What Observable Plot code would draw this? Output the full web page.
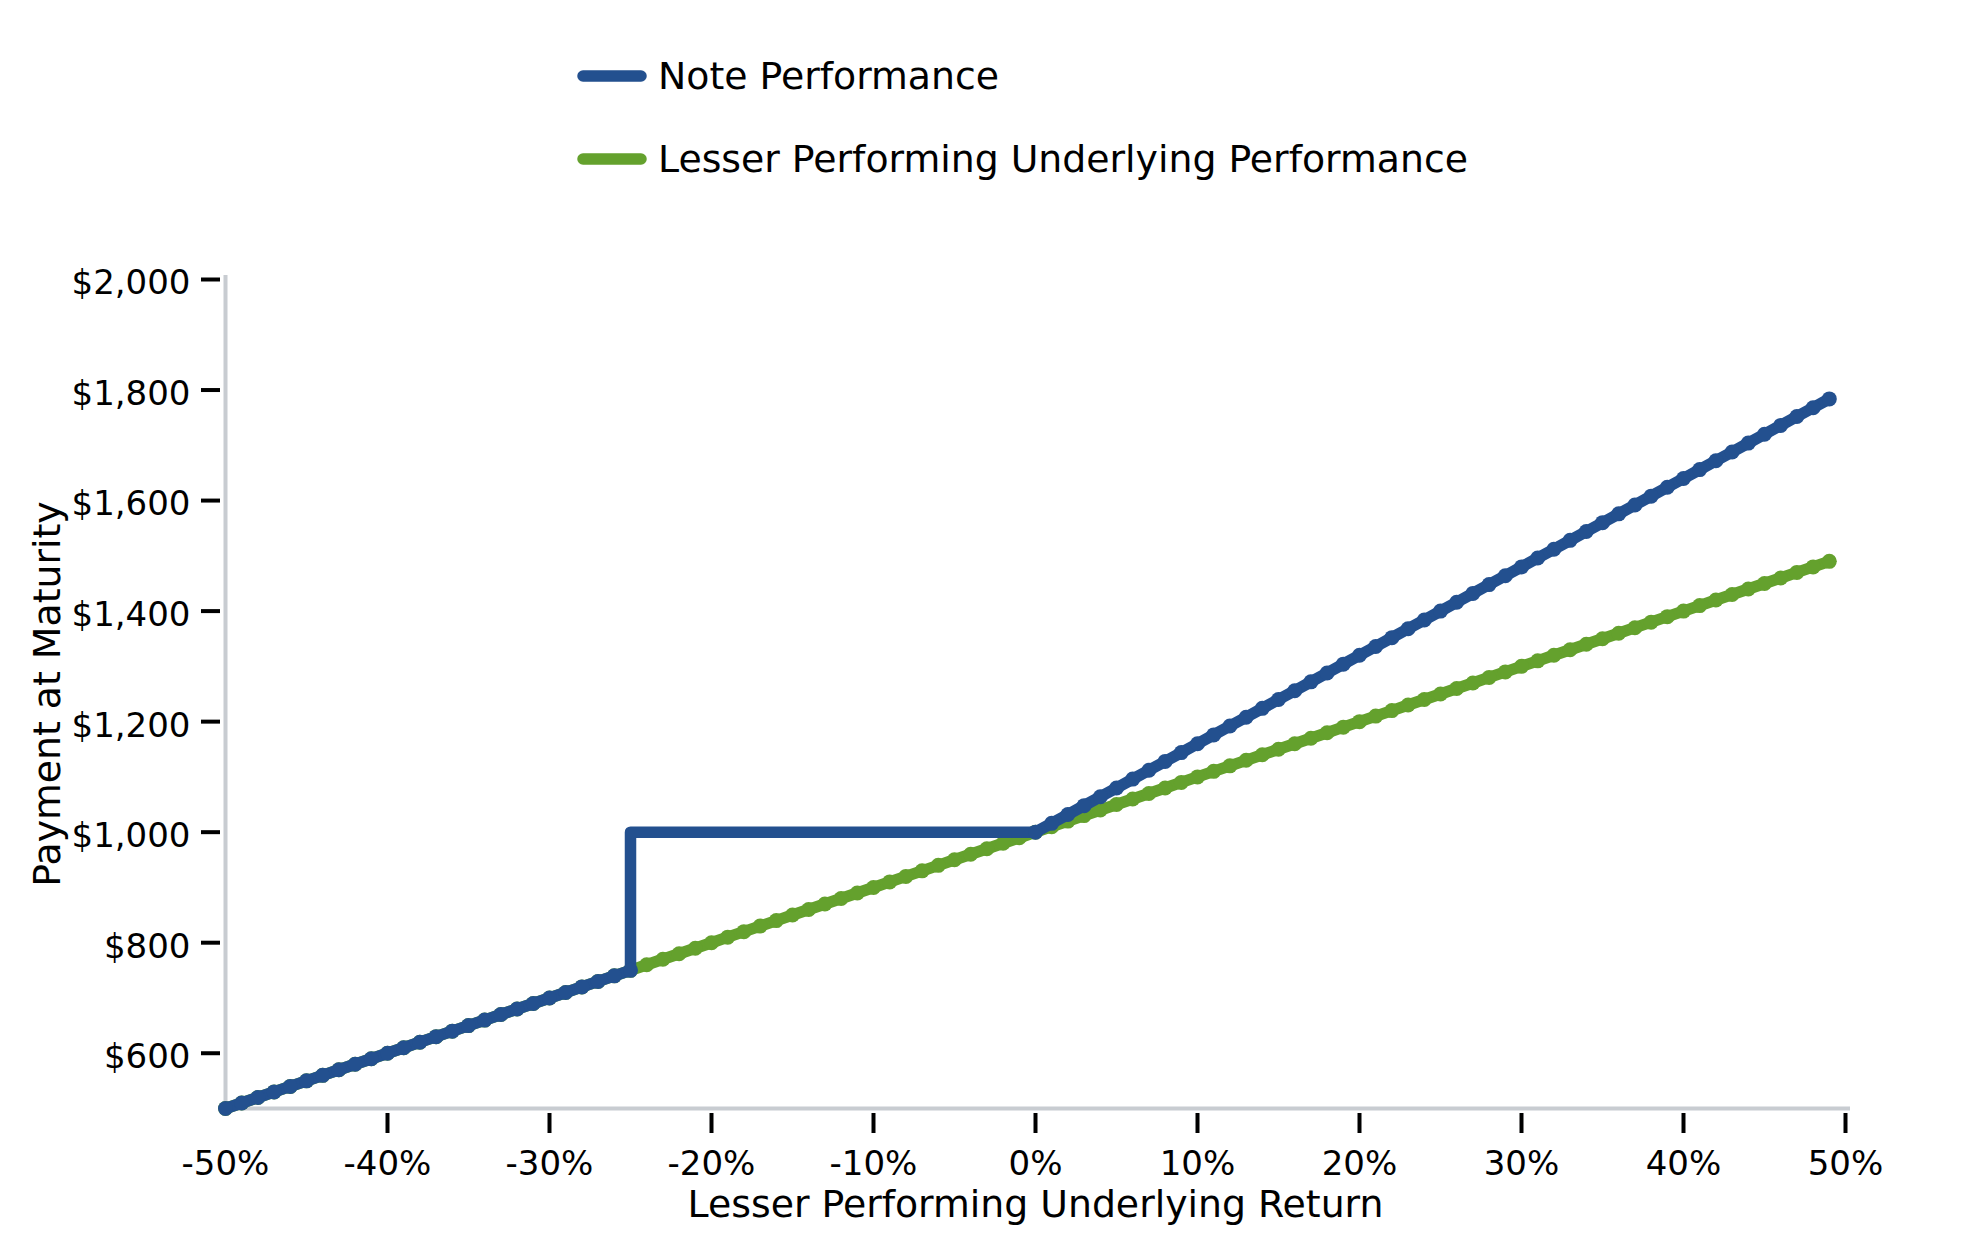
<!DOCTYPE html>
<html>
<head>
<meta charset="utf-8">
<script src="https://cdn.jsdelivr.net/npm/d3@7"></script>
<script src="https://cdn.jsdelivr.net/npm/@observablehq/plot@0.6"></script>
<style>
  html, body { margin: 0; padding: 0; background: #fff; }
  #page { position: relative; width: 1979px; height: 1250px; font-family: "DejaVu Sans", sans-serif; color: #000; }
  #legend { position: relative; width: 1979px; height: 190px; }
  .item { position: absolute; left: 577px; height: 44px; display: flex; align-items: center; font-size: 37.8px; line-height: 44px; white-space: nowrap; }
  .item svg { margin-right: 11px; display: block; }
</style>
</head>
<body>
<div id="page">
  <div id="legend"></div>
  <div id="chart"></div>
</div>
<script>
// Lesser performing underlying return (%), one point per 1%
const returns = [-50,-49,-48,-47,-46,-45,-44,-43,-42,-41,-40,-39,-38,-37,-36,-35,-34,-33,-32,-31,-30,-29,-28,-27,-26,-25,-24,-23,-22,-21,-20,-19,-18,-17,-16,-15,-14,-13,-12,-11,-10,-9,-8,-7,-6,-5,-4,-3,-2,-1,0,1,2,3,4,5,6,7,8,9,10,11,12,13,14,15,16,17,18,19,20,21,22,23,24,25,26,27,28,29,30,31,32,33,34,35,36,37,38,39,40,41,42,43,44,45,46,47,48,49];

// Lesser Performing Underlying Performance ($)
const underlyingValues = [500,510,520,530,540,550,560,570,580,590,600,610,620,630,640,650,660,670,680,690,700,710,720,730,740,750,760,770,780,790,800,810,820,830,840,850,860,870,880,890,900,910,920,930,940,950,960,970,980,990,1000,1010,1020,1030,1040,1050,1060,1070,1080,1090,1100,1110,1120,1130,1140,1150,1160,1170,1180,1190,1200,1210,1220,1230,1240,1250,1260,1270,1280,1290,1300,1310,1320,1330,1340,1350,1360,1370,1380,1390,1400,1410,1420,1430,1440,1450,1460,1470,1480,1490];

// Note Performance: returns (with the jump at the -25% barrier) and payments ($)
const noteReturns = [-50,-49,-48,-47,-46,-45,-44,-43,-42,-41,-40,-39,-38,-37,-36,-35,-34,-33,-32,-31,-30,-29,-28,-27,-26,-25,-25,-24,-23,-22,-21,-20,-19,-18,-17,-16,-15,-14,-13,-12,-11,-10,-9,-8,-7,-6,-5,-4,-3,-2,-1,0,1,2,3,4,5,6,7,8,9,10,11,12,13,14,15,16,17,18,19,20,21,22,23,24,25,26,27,28,29,30,31,32,33,34,35,36,37,38,39,40,41,42,43,44,45,46,47,48,49];
const noteValues = [500,510,520,530,540,550,560,570,580,590,600,610,620,630,640,650,660,670,680,690,700,710,720,730,740,750,1000,1000,1000,1000,1000,1000,1000,1000,1000,1000,1000,1000,1000,1000,1000,1000,1000,1000,1000,1000,1000,1000,1000,1000,1000,1000,1016,1032,1048,1064,1080,1096,1112,1128,1144,1160,1176,1192,1208,1224,1240,1256,1272,1288,1304,1320,1336,1352,1368,1384,1400,1416,1432,1448,1464,1480,1496,1512,1528,1544,1560,1576,1592,1608,1624,1640,1656,1672,1688,1704,1720,1736,1752,1768,1784];

const yTickValues = [600, 800, 1000, 1200, 1400, 1600, 1800, 2000];
const xTickMarks = [-40, -30, -20, -10, 0, 10, 20, 30, 40, 50];
const xTickLabels = [-50, -40, -30, -20, -10, 0, 10, 20, 30, 40, 50];

const seriesNames = ["Note Performance", "Lesser Performing Underlying Performance"];
const seriesColors = ["#23508f", "#64a12d"];
const xTitle = "Lesser Performing Underlying Return";
const yTitle = "Payment at Maturity";

const underlying = returns.map((r, i) => ({r, v: underlyingValues[i]}));
const note = noteReturns.map((r, i) => ({r, v: noteValues[i], flat: noteValues[i] === 1000 && r < 0}));

// Legend
const legend = document.getElementById("legend");
const legendY = [76, 159];
seriesNames.forEach((name, i) => {
  const div = document.createElement("div");
  div.className = "item";
  div.style.top = (legendY[i] - 22) + "px";
  div.innerHTML = `<svg width="70" height="16"><line x1="6" x2="64" y1="8" y2="8" stroke="${seriesColors[i]}" stroke-width="11.5" stroke-linecap="round"/></svg><span>${name}</span>`;
  legend.appendChild(div);
});

const axisGrey = "#c8ccd1";
const chart = Plot.plot({
  width: 1979,
  height: 1060,
  marginTop: 89,
  marginBottom: 142,
  marginLeft: 225,
  marginRight: 134,
  style: {fontFamily: "DejaVu Sans", fontSize: "34px", color: "#000", background: "#fff", overflow: "visible"},
  x: {domain: [-50, 50], label: null},
  y: {domain: [500, 2000], label: null},
  marks: [
    Plot.ruleY([500], {stroke: axisGrey, strokeWidth: 4, insetRight: -5}),
    Plot.ruleX([-50], {stroke: axisGrey, strokeWidth: 4, insetTop: -4}),
    Plot.axisX(xTickMarks, {tickSize: 20, dy: 5, fill: "none", stroke: "#000", strokeWidth: 4, label: null}),
    Plot.axisX(xTickLabels, {tickSize: 0, tickPadding: 42, stroke: "none", fill: "#000", fontSize: 34, tickFormat: d => d + "%", label: null}),
    Plot.axisY(yTickValues, {tickSize: 19, dx: -5, fill: "none", stroke: "#000", strokeWidth: 4, label: null}),
    Plot.axisY(yTickValues, {tickSize: 0, tickPadding: 35, dy: 4, stroke: "none", fill: "#000", fontSize: 34, tickFormat: d3.format("$,"), label: null}),
    Plot.text([xTitle], {text: d => d, frameAnchor: "bottom", lineAnchor: "middle", textAnchor: "middle", dy: 96, fontSize: 37.8, fill: "#000"}),
    Plot.text([yTitle], {text: d => d, frameAnchor: "left", lineAnchor: "middle", textAnchor: "middle", rotate: -90, dx: -178, fontSize: 37.8, fill: "#000"}),
    Plot.line(underlying, {x: "r", y: "v", stroke: seriesColors[1], strokeWidth: 11.5, strokeLinecap: "round", strokeLinejoin: "round"}),
    Plot.dot(underlying, {x: "r", y: "v", r: 7.5, fill: seriesColors[1]}),
    Plot.line(note, {x: "r", y: "v", stroke: seriesColors[0], strokeWidth: 11.5, strokeLinecap: "round", strokeLinejoin: "round"}),
    Plot.dot(note, {filter: d => !d.flat, x: "r", y: "v", r: 7.5, fill: seriesColors[0]})
  ]
});
document.getElementById("chart").appendChild(chart);
</script>
</body>
</html>
